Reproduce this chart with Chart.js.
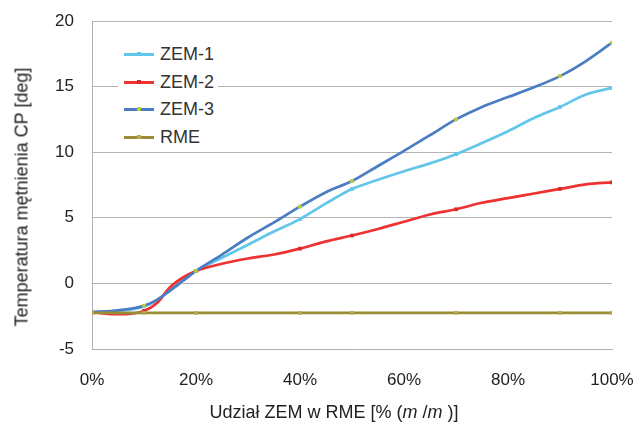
<!DOCTYPE html>
<html>
<head>
<meta charset="utf-8">
<script src="https://cdn.jsdelivr.net/npm/chart.js@4"></script>
<style>
    html, body { margin: 0; padding: 0; background: #fff; }
    #wrap { position: relative; width: 637px; height: 426px; font-family: "Liberation Sans", Arial, sans-serif; color: #222; }
    #chart { position: absolute; left: 0; top: 0; }
    .legend { position: absolute; left: 118px; top: 40px; width: 100px; height: 112px; background: #fff; }
    .legend .item { position: absolute; left: 6px; height: 20px; font-size: 18px; line-height: 20px; color: #333; }
    .legend .swatch { position: absolute; left: 0; top: 9px; width: 30px; height: 3px; }
    .legend .dot { position: absolute; left: 13px; top: -1px; width: 4px; height: 4px; }
    .legend .label { position: absolute; left: 36px; top: 0; white-space: nowrap; }
    .ytitle { position: absolute; left: 22px; top: 197px; transform: translate(-50%, -50%) rotate(-90deg); white-space: nowrap; font-size: 18px; }
    .xtitle { position: absolute; left: 334px; top: 412px; transform: translate(-50%, -50%); white-space: nowrap; font-size: 18px; }
</style>
</head>
<body>
<div id="wrap">
    <canvas id="chart" width="637" height="426"></canvas>
    <div class="legend" id="legend"></div>
    <div class="ytitle">Temperatura mętnienia CP [deg]</div>
    <div class="xtitle">Udział ZEM w RME [% (<i>m</i> /<i>m</i> )]</div>
</div>
<script>
// ──────────────────────────────────────────────
//  Data
// ──────────────────────────────────────────────
const SHARE = [0, 5, 10, 12.5, 15, 17.5, 20, 25, 30, 35, 40, 45, 50, 55, 60, 65, 70, 75, 80, 85, 90, 95, 100];

const ZEM1 = [-2.2, -2.1, -1.75, -1.25, -0.55, 0.2, 0.95, 1.95, 2.95, 3.95, 4.9, 6.1, 7.2, 7.9, 8.55, 9.15, 9.85, 10.7, 11.6, 12.6, 13.45, 14.4, 14.9];
const ZEM2 = [-2.2, -2.35, -2.1, -1.5, -0.3, 0.45, 0.95, 1.5, 1.9, 2.2, 2.65, 3.2, 3.65, 4.15, 4.7, 5.25, 5.65, 6.15, 6.5, 6.85, 7.2, 7.55, 7.7];
const ZEM3 = [-2.2, -2.05, -1.7, -1.25, -0.55, 0.2, 0.95, 2.2, 3.5, 4.65, 5.85, 6.95, 7.8, 8.95, 10.1, 11.3, 12.5, 13.45, 14.2, 14.95, 15.8, 16.95, 18.35];
const RME  = [-2.25, -2.25, -2.25, -2.25, -2.25, -2.25, -2.25, -2.25, -2.25, -2.25, -2.25, -2.25, -2.25, -2.25, -2.25, -2.25, -2.25, -2.25, -2.25, -2.25, -2.25, -2.25, -2.25];

// measured points carry a marker
const MARKED = [0, 10, 20, 40, 50, 70, 90, 100];

const X_TICKS = [0, 20, 40, 60, 80, 100];
const Y_TICKS = [-5, 0, 5, 10, 15, 20];

const SERIES = [
    { name: 'ZEM-1', values: ZEM1, color: '#62c6ea', marker: '#62c6ea', order: 3 },
    { name: 'ZEM-2', values: ZEM2, color: '#ee3131', marker: '#d92828', order: 2 },
    { name: 'ZEM-3', values: ZEM3, color: '#4a7dc2', marker: '#b9cc3c', order: 1 },
    { name: 'RME',   values: RME,  color: '#9a8c35', marker: '#b6aa5a', order: 0 },
];

// ──────────────────────────────────────────────
//  Legend (HTML overlay, inside plot area)
// ──────────────────────────────────────────────
const legend = document.getElementById('legend');
SERIES.forEach((s, i) => {
    const item = document.createElement('div');
    item.className = 'item';
    item.style.top = (4 + i * 27.5) + 'px';
    item.innerHTML = `<div class="swatch" style="background:${s.color}"><div class="dot" style="background:${s.marker}"></div></div><span class="label">${s.name}</span>`;
    legend.appendChild(item);
});

// ──────────────────────────────────────────────
//  Chart
// ──────────────────────────────────────────────
const datasets = SERIES.map(s => ({
    label: s.name,
    data: SHARE.map((x, i) => ({ x: x, y: s.values[i] })),
    borderColor: s.color,
    backgroundColor: s.marker,
    borderWidth: 2.7,
    pointStyle: 'rect',
    pointBorderWidth: 0,
    pointRadius: (ctx) => MARKED.includes(SHARE[ctx.dataIndex]) ? 2.6 : 0,
    cubicInterpolationMode: 'monotone',
    order: s.order,
}));

// keep tick labels from pushing the plot area around
function noLabelPadding(scale) {
    scale.paddingLeft = 0;
    scale.paddingRight = 0;
    scale.paddingTop = 0;
    scale.paddingBottom = 0;
}

new Chart(document.getElementById('chart'), {
    type: 'line',
    data: { datasets: datasets },
    options: {
        responsive: false,
        animation: false,
        layout: { padding: { left: 0, right: 25, top: 21, bottom: 0 } },
        plugins: {
            legend: { display: false },
            tooltip: { enabled: false },
        },
        scales: {
            x: {
                type: 'linear',
                min: 0,
                max: 100,
                afterFit: (scale) => { scale.height = 77; noLabelPadding(scale); },
                afterBuildTicks: (scale) => { scale.ticks = X_TICKS.map(v => ({ value: v })); },
                grid: { display: false, drawTicks: false },
                border: { display: true, color: '#b0b0b0', width: 1 },
                ticks: {
                    padding: 21,
                    color: '#222',
                    font: { family: 'Liberation Sans', size: 17 },
                    callback: (v) => v + '%',
                },
            },
            y: {
                min: -5,
                max: 20,
                afterFit: (scale) => { scale.width = 92; noLabelPadding(scale); },
                afterBuildTicks: (scale) => { scale.ticks = Y_TICKS.map(v => ({ value: v })); },
                grid: { color: '#b4b4b4', lineWidth: 1, drawTicks: false },
                border: { display: true, color: '#b0b0b0', width: 1 },
                ticks: {
                    padding: 18,
                    color: '#222',
                    font: { family: 'Liberation Sans', size: 17 },
                },
            },
        },
    },
});
</script>
</body>
</html>
